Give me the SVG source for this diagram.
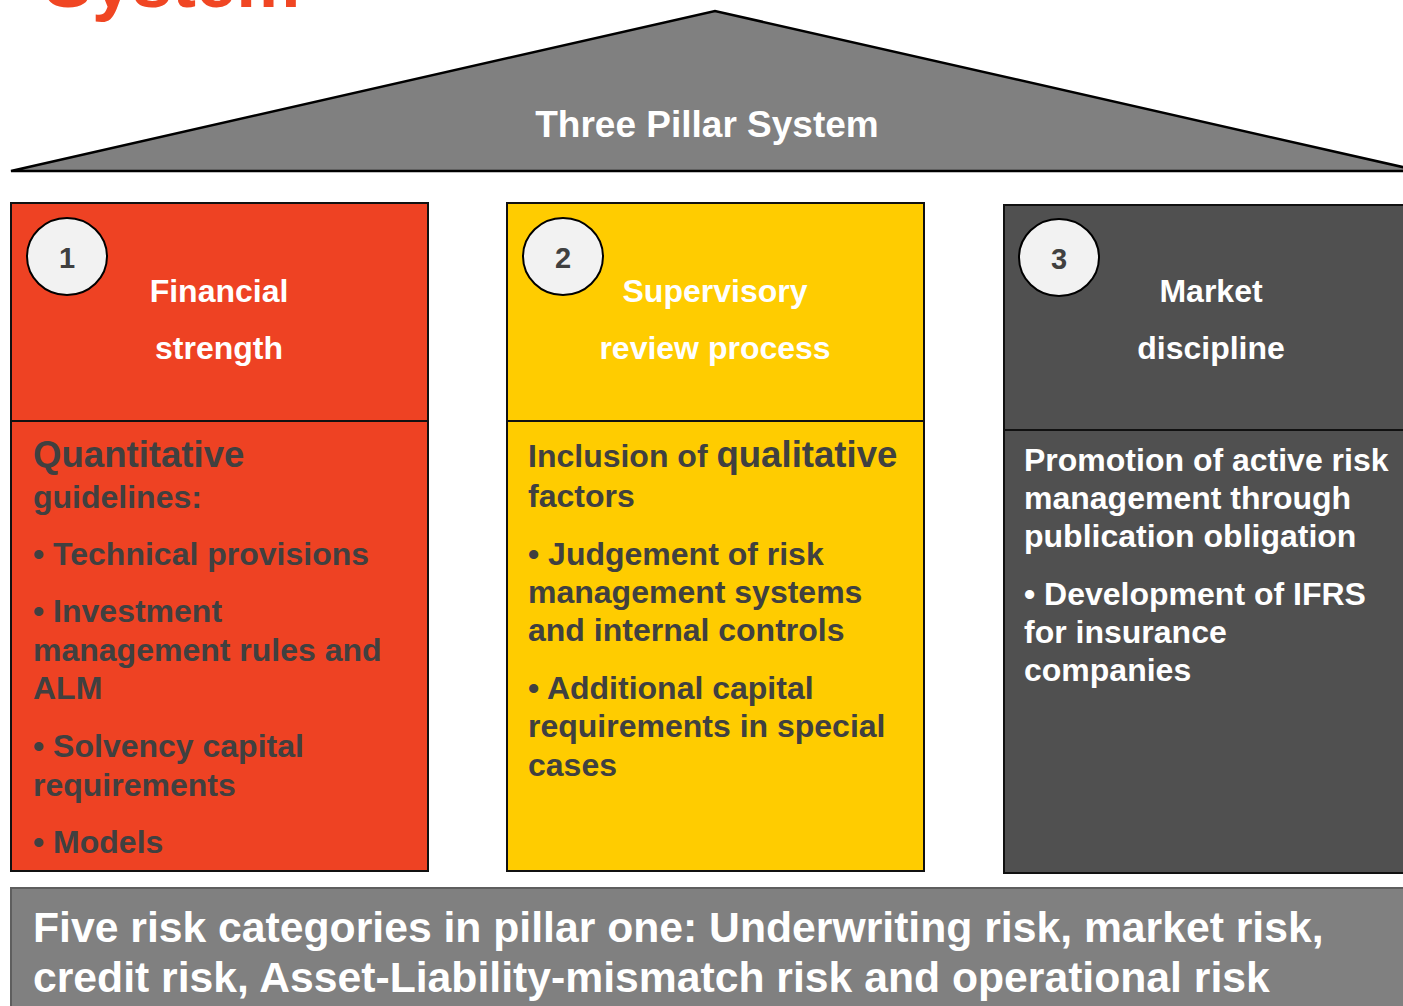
<svg xmlns="http://www.w3.org/2000/svg" width="1403" height="1006" viewBox="0 0 1403 1006">
  <style>
    text { font-family: "Liberation Sans", Arial, sans-serif; font-weight: bold; }
    .pillar { stroke: #111; stroke-width: 2; }
    .divider { stroke: #111; stroke-width: 2; fill: none; }
    .badge { fill: #F2F2F2; stroke: #000; stroke-width: 2; }
    .num { fill: #404040; font-size: 29px; text-anchor: middle; }
    .head { fill: #FFFFFF; font-size: 32px; text-anchor: middle; }
    .body { fill: #404040; font-size: 32px; }
    .body-w { fill: #FFFFFF; font-size: 32px; }
    .lead { font-size: 36.6px; }
  </style>

  <rect width="1403" height="1006" fill="#FFFFFF"/>

  <!-- heading, cropped at the top edge -->
  <text x="44" y="7" font-size="72" fill="#F04623">System</text>

  <!-- roof -->
  <g id="roof">
    <polygon points="11,171 715,11 1420,171" fill="#808080" stroke="#000" stroke-width="2.5" stroke-linejoin="miter"/>
    <text x="707" y="137" font-size="37" fill="#FFFFFF" text-anchor="middle">Three Pillar System</text>
  </g>

  <!-- pillar 1 -->
  <g id="pillar1">
    <rect class="pillar" x="11" y="203" width="417" height="668" fill="#EE4223"/>
    <line class="divider" x1="11" y1="421" x2="428" y2="421"/>
    <ellipse class="badge" cx="67" cy="256.5" rx="40" ry="38.5"/>
    <text class="num" x="67" y="268">1</text>
    <text class="head" x="219" y="302">Financial</text>
    <text class="head" x="219" y="359">strength</text>
    <text class="body lead" x="33" y="467">Quantitative</text>
    <text class="body" x="33" y="508">guidelines:</text>
    <text class="body" x="33" y="565">• Technical provisions</text>
    <text class="body" x="33" y="622">• Investment</text>
    <text class="body" x="33" y="661">management rules and</text>
    <text class="body" x="33" y="699">ALM</text>
    <text class="body" x="33" y="757">• Solvency capital</text>
    <text class="body" x="33" y="796">requirements</text>
    <text class="body" x="33" y="853">• Models</text>
  </g>

  <!-- pillar 2 -->
  <g id="pillar2">
    <rect class="pillar" x="507" y="203" width="417" height="668" fill="#FFCC00"/>
    <line class="divider" x1="507" y1="421" x2="924" y2="421"/>
    <ellipse class="badge" cx="563" cy="256.5" rx="40" ry="38.5"/>
    <text class="num" x="563" y="268">2</text>
    <text class="head" x="715" y="302">Supervisory</text>
    <text class="head" x="715" y="359">review process</text>
    <text class="body" x="528" y="467">Inclusion of <tspan class="lead">qualitative</tspan></text>
    <text class="body" x="528" y="507">factors</text>
    <text class="body" x="528" y="565">• Judgement of risk</text>
    <text class="body" x="528" y="603">management systems</text>
    <text class="body" x="528" y="641">and internal controls</text>
    <text class="body" x="528" y="699">• Additional capital</text>
    <text class="body" x="528" y="737">requirements in special</text>
    <text class="body" x="528" y="776">cases</text>
  </g>

  <!-- pillar 3 -->
  <g id="pillar3">
    <rect class="pillar" x="1004" y="205" width="420" height="668" fill="#505050"/>
    <line class="divider" x1="1004" y1="430" x2="1424" y2="430"/>
    <ellipse class="badge" cx="1059" cy="257.5" rx="40" ry="38.5"/>
    <text class="num" x="1059" y="269">3</text>
    <text class="head" x="1211" y="302">Market</text>
    <text class="head" x="1211" y="359">discipline</text>
    <text class="body-w" x="1024" y="471">Promotion of active risk</text>
    <text class="body-w" x="1024" y="509">management through</text>
    <text class="body-w" x="1024" y="547">publication obligation</text>
    <text class="body-w" x="1024" y="605">• Development of IFRS</text>
    <text class="body-w" x="1024" y="643">for insurance</text>
    <text class="body-w" x="1024" y="681">companies</text>
  </g>

  <!-- foundation -->
  <g id="foundation">
    <rect x="11" y="888" width="1420" height="140" fill="#808080" stroke="#5E5E5E" stroke-width="2"/>
    <text x="33" y="942" font-size="42.7" fill="#FFFFFF">Five risk categories in pillar one: Underwriting risk, market risk,</text>
    <text x="33" y="992" font-size="42.7" fill="#FFFFFF">credit risk, Asset-Liability-mismatch risk and operational risk</text>
  </g>
</svg>
